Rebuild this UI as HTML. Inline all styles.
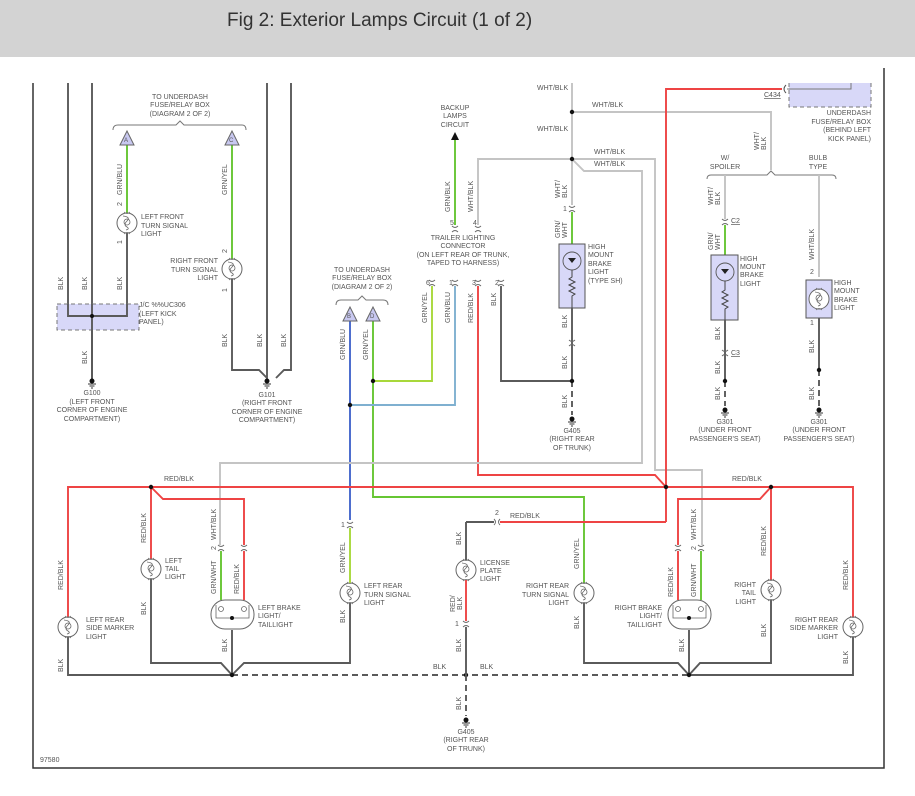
<!DOCTYPE html>
<html><head><meta charset="utf-8"><style>
html,body{margin:0;padding:0;background:#fff;}
svg{display:block;}
text{font-family:"Liberation Sans",sans-serif;font-size:7px;fill:#555;}
.t{font-size:19px;fill:#333;}
.w{fill:none;stroke-width:1.9;}
.k{stroke:#5a5a5a;}.r{stroke:#ee4444;}.g{stroke:#66c633;}.y{stroke:#a8d83a;}.b{stroke:#4466cc;}.h{stroke:#c4c4c4;}
.d{stroke-dasharray:6,4;}
</style></head><body>
<svg width="915" height="796" viewBox="0 0 915 796" xmlns="http://www.w3.org/2000/svg">
<defs>
<g id="lamp"><circle r="10" fill="#fff" stroke="#666" stroke-width="1"/><path d="M-4,-7 Q4,-6 0,-2 Q-4,2 0,4 Q3,6 -1,7 M-3,-1 a3,3 0 1,0 6,0 a3,3 0 1,0 -6,0" fill="none" stroke="#666" stroke-width="0.8"/><path d="M-3,-11 Q0,-8 3,-11 M-3,11 Q0,8 3,11" fill="none" stroke="#666" stroke-width="0.8"/></g>
<g id="cn"><path d="M-3,-3 Q0,0 3,-3 M-3,3 Q0,0 3,3" fill="none" stroke="#666" stroke-width="0.9"/></g>
<g id="gnd"><circle r="2.5" fill="#111"/><path d="M-4,3 H4 M-2.5,5 H2.5 M-1,7 H1" stroke="#333" stroke-width="0.9"/></g>
<g id="tri"><polygon points="0,-8 -7,6 7,6" fill="#c8c8f0" stroke="#666" stroke-width="1"/></g>
</defs>
<rect x="0" y="0" width="915" height="57" fill="#d3d3d3"/>
<text class="t" x="227" y="26">Fig 2: Exterior Lamps Circuit (1 of 2)</text>
<path d="M33,83 V768 H884 V68" fill="none" stroke="#333" stroke-width="1.5"/>

<!-- LEFT TOP -->
<path class="w k" d="M68,83 V316 M92,83 V381 M127,233 V316 M68,316 H127"/>
<rect x="57" y="304" width="82" height="26" fill="#d8d8f8" stroke="#777" stroke-dasharray="4,3"/>
<path class="w k" d="M68,304 V316 H127 V304 M92,304 V381"/>
<circle cx="92" cy="316" r="2" fill="#111"/>
<path class="w g" d="M127,145 V213 M232,145 V259"/>
<use href="#tri" x="127" y="139"/><use href="#tri" x="232" y="139"/>
<text x="124" y="142" style="font-size:6px">A</text><text x="229" y="142" style="font-size:6px">C</text>
<path d="M113,130 Q113,125 118,125 H176 L180,121 L184,125 H242 Q246,125 246,130" fill="none" stroke="#777"/>
<text x="180" y="99" text-anchor="middle">TO UNDERDASH</text><text x="180" y="107" text-anchor="middle">FUSE/RELAY BOX</text><text x="180" y="116" text-anchor="middle">(DIAGRAM 2 OF 2)</text>
<use href="#lamp" x="127" y="223"/>
<text x="141" y="219">LEFT FRONT</text><text x="141" y="228">TURN SIGNAL</text><text x="141" y="236">LIGHT</text>
<use href="#lamp" x="232" y="269"/>
<text x="218" y="263" text-anchor="end">RIGHT FRONT</text><text x="218" y="272" text-anchor="end">TURN SIGNAL</text><text x="218" y="280" text-anchor="end">LIGHT</text>
<path class="w k" d="M232,279 V370 H259 L267,378 M267,83 V381 M291,83 V370 H284 L276,378"/>
<use href="#gnd" x="92" y="381"/><use href="#gnd" x="267" y="381"/>
<text x="139" y="307">J/C %%UC306</text><text x="139" y="316">(LEFT KICK</text><text x="139" y="324">PANEL)</text>
<text x="92" y="395" text-anchor="middle">G100</text><text x="92" y="404" text-anchor="middle">(LEFT FRONT</text><text x="92" y="412" text-anchor="middle">CORNER OF ENGINE</text><text x="92" y="421" text-anchor="middle">COMPARTMENT)</text>
<text x="267" y="397" text-anchor="middle">G101</text><text x="267" y="405" text-anchor="middle">(RIGHT FRONT</text><text x="267" y="414" text-anchor="middle">CORNER OF ENGINE</text><text x="267" y="422" text-anchor="middle">COMPARTMENT)</text>
<g>
<text transform="translate(63,290) rotate(-90)">BLK</text><text transform="translate(87,290) rotate(-90)">BLK</text><text transform="translate(122,290) rotate(-90)">BLK</text>
<text transform="translate(122,195) rotate(-90)">GRN/BLU</text><text transform="translate(122,206) rotate(-90)">2</text><text transform="translate(122,244) rotate(-90)">1</text>
<text transform="translate(227,195) rotate(-90)">GRN/YEL</text><text transform="translate(227,253) rotate(-90)">2</text><text transform="translate(227,292) rotate(-90)">1</text>
<text transform="translate(87,364) rotate(-90)">BLK</text>
<text transform="translate(227,347) rotate(-90)">BLK</text><text transform="translate(262,347) rotate(-90)">BLK</text><text transform="translate(286,347) rotate(-90)">BLK</text>
</g>

<!-- TRAILER -->
<path d="M336,305 Q336,300 341,300 H358 L362,296 L366,300 H383 Q388,300 388,305" fill="none" stroke="#777"/>
<text x="362" y="272" text-anchor="middle">TO UNDERDASH</text><text x="362" y="280" text-anchor="middle">FUSE/RELAY BOX</text><text x="362" y="289" text-anchor="middle">(DIAGRAM 2 OF 2)</text>
<path class="w b" d="M350,320 V520"/>
<path class="w g" d="M373,320 V497 H584 V583"/>
<path class="w y" d="M373,381 H432 V286"/>
<path class="w" stroke="#7fb0d0" d="M350,405 H455 V286"/>
<use href="#tri" x="350" y="315"/><use href="#tri" x="373" y="315"/>
<text x="347" y="318" style="font-size:6px">B</text><text x="370" y="318" style="font-size:6px">D</text>
<circle cx="373" cy="381" r="2.2" fill="#111"/><circle cx="350" cy="405" r="2.2" fill="#111"/>
<path class="w g" d="M455,140 V225"/><polygon points="455,132 451,140 459,140" fill="#111"/>
<text x="455" y="110" text-anchor="middle">BACKUP</text><text x="455" y="118" text-anchor="middle">LAMPS</text><text x="455" y="127" text-anchor="middle">CIRCUIT</text>
<path class="w h" d="M478,225 V159 H572"/>
<text x="463" y="240" text-anchor="middle">TRAILER LIGHTING</text><text x="463" y="248" text-anchor="middle">CONNECTOR</text><text x="463" y="257" text-anchor="middle">(ON LEFT REAR OF TRUNK,</text><text x="463" y="265" text-anchor="middle">TAPED TO HARNESS)</text>
<use href="#cn" x="455" y="229"/><use href="#cn" x="478" y="229"/>
<use href="#cn" x="432" y="283"/><use href="#cn" x="455" y="283"/><use href="#cn" x="478" y="283"/><use href="#cn" x="501" y="283"/>
<text x="450" y="225">5</text><text x="473" y="225">4</text><text x="426" y="285">6</text><text x="449" y="285">1</text><text x="472" y="285">3</text><text x="495" y="285">2</text>
<path class="w r" d="M478,286 V475 H655 L666,487"/>
<path class="w k" d="M501,286 V381 H572"/>
<g>
<text transform="translate(450,212) rotate(-90)">GRN/BLK</text><text transform="translate(473,212) rotate(-90)">WHT/BLK</text>
<text transform="translate(427,323) rotate(-90)">GRN/YEL</text><text transform="translate(450,323) rotate(-90)">GRN/BLU</text><text transform="translate(473,323) rotate(-90)">RED/BLK</text><text transform="translate(496,306) rotate(-90)">BLK</text>
<text transform="translate(345,360) rotate(-90)">GRN/BLU</text><text transform="translate(368,360) rotate(-90)">GRN/YEL</text>
</g>

<!-- HMBL center -->
<path class="w h" d="M572,83 V205 M572,112 H771 V170 M572,159 H655 V470 H702 V545 M572,159 L584,171 H642 V463 H220 V545"/>
<circle cx="572" cy="112" r="2.2" fill="#111"/><circle cx="572" cy="159" r="2.2" fill="#111"/>
<text x="537" y="90">WHT/BLK</text><text x="592" y="107">WHT/BLK</text><text x="537" y="131">WHT/BLK</text><text x="594" y="154">WHT/BLK</text><text x="594" y="166">WHT/BLK</text>
<use href="#cn" x="572" y="209"/><text x="563" y="211">1</text>
<path class="w g" d="M572,212 V244"/>
<rect x="559" y="244" width="26" height="64" fill="#d8d8f8" stroke="#555"/>
<circle cx="572" cy="261" r="9" fill="none" stroke="#555" stroke-width="0.9"/>
<polygon points="568,258 576,258 572,263" fill="#222"/>
<path d="M572,270 V277 L569,279 L575,282 L569,285 L575,288 L569,291 L575,294 L572,296 V308" fill="none" stroke="#444"/>
<text x="588" y="249">HIGH</text><text x="588" y="257">MOUNT</text><text x="588" y="266">BRAKE</text><text x="588" y="274">LIGHT</text><text x="588" y="283">(TYPE SH)</text>
<path class="w k" d="M572,308 V381"/><use href="#cn" x="572" y="343"/>
<path class="w k d" d="M572,381 V415"/><circle cx="572" cy="381" r="2.2" fill="#111"/><use href="#gnd" x="572" y="419"/>
<text x="572" y="433" text-anchor="middle">G405</text><text x="572" y="441" text-anchor="middle">(RIGHT REAR</text><text x="572" y="450" text-anchor="middle">OF TRUNK)</text>
<g>
<text transform="translate(560,198) rotate(-90)">WHT/</text><text transform="translate(567,198) rotate(-90)">BLK</text>
<text transform="translate(560,238) rotate(-90)">GRN/</text><text transform="translate(567,238) rotate(-90)">WHT</text>
<text transform="translate(567,328) rotate(-90)">BLK</text><text transform="translate(567,369) rotate(-90)">BLK</text><text transform="translate(567,408) rotate(-90)">BLK</text>
</g>

<!-- right top -->
<path class="w r" d="M666,522 V89 H782"/>
<path d="M786,85 Q782,89 786,93" fill="none" stroke="#555"/>
<path d="M789,83 V107 H871 V83" fill="#d8d8f8" stroke="#777" stroke-dasharray="4,3"/>
<path d="M787,89 H851 V83" fill="none" stroke="#777"/>
<text x="764" y="97" text-decoration="underline">C434</text>
<text x="871" y="115" text-anchor="end">UNDERDASH</text><text x="871" y="124" text-anchor="end">FUSE/RELAY BOX</text><text x="871" y="132" text-anchor="end">(BEHIND LEFT</text><text x="871" y="141" text-anchor="end">KICK PANEL)</text>
<path d="M707,179 Q707,175 711,175 H767 L771,171 L775,175 H832 Q836,175 836,179" fill="none" stroke="#777"/>
<text x="725" y="160" text-anchor="middle">W/</text><text x="725" y="169" text-anchor="middle">SPOILER</text>
<text x="818" y="160" text-anchor="middle">BULB</text><text x="818" y="169" text-anchor="middle">TYPE</text>
<text transform="translate(759,150) rotate(-90)">WHT/</text><text transform="translate(766,150) rotate(-90)">BLK</text>
<path class="w h" d="M725,175 V219 M819,175 V277"/>
<use href="#cn" x="725" y="222"/><text x="731" y="223" text-decoration="underline">C2</text>
<path class="w g" d="M725,225 V255"/>
<rect x="711" y="255" width="27" height="65" fill="#d8d8f8" stroke="#555"/>
<circle cx="725" cy="272" r="9" fill="none" stroke="#555" stroke-width="0.9"/>
<polygon points="721,269 729,269 725,274" fill="#222"/>
<path d="M725,281 V290 L722,292 L728,295 L722,298 L728,301 L722,304 L728,307 L725,309 V320" fill="none" stroke="#444"/>
<text x="740" y="261">HIGH</text><text x="740" y="269">MOUNT</text><text x="740" y="277">BRAKE</text><text x="740" y="286">LIGHT</text>
<path class="w k" d="M725,320 V381"/><use href="#cn" x="725" y="353"/><text x="731" y="355" text-decoration="underline">C3</text>
<path class="w k d" d="M725,381 V406"/><circle cx="725" cy="381" r="2.2" fill="#111"/><use href="#gnd" x="725" y="410"/>
<text x="725" y="424" text-anchor="middle">G301</text><text x="725" y="432" text-anchor="middle">(UNDER FRONT</text><text x="725" y="441" text-anchor="middle">PASSENGER'S SEAT)</text>
<rect x="806" y="280" width="26" height="38" fill="#d8d8f8" stroke="#555"/>
<use href="#lamp" x="819" y="299"/>
<text x="834" y="285">HIGH</text><text x="834" y="293">MOUNT</text><text x="834" y="302">BRAKE</text><text x="834" y="310">LIGHT</text>
<text x="810" y="274">2</text><text x="810" y="325">1</text>
<path class="w k" d="M819,318 V370"/><path class="w k d" d="M819,370 V406"/><circle cx="819" cy="370" r="2.2" fill="#111"/><use href="#gnd" x="819" y="410"/>
<text x="819" y="424" text-anchor="middle">G301</text><text x="819" y="432" text-anchor="middle">(UNDER FRONT</text><text x="819" y="441" text-anchor="middle">PASSENGER'S SEAT)</text>
<g>
<text transform="translate(713,205) rotate(-90)">WHT/</text><text transform="translate(720,205) rotate(-90)">BLK</text>
<text transform="translate(713,250) rotate(-90)">GRN/</text><text transform="translate(720,250) rotate(-90)">WHT</text>
<text transform="translate(720,340) rotate(-90)">BLK</text><text transform="translate(720,374) rotate(-90)">BLK</text><text transform="translate(720,400) rotate(-90)">BLK</text>
<text transform="translate(814,260) rotate(-90)">WHT/BLK</text><text transform="translate(814,353) rotate(-90)">BLK</text><text transform="translate(814,400) rotate(-90)">BLK</text>
</g>

<!-- BOTTOM -->
<path class="w r" d="M68,617 V487 H853 V617 M151,487 V559 M151,487 L163,499 H244 V545 M771,487 V580 M771,487 L760,499 H678 V545"/>
<circle cx="151" cy="487" r="2.2" fill="#111"/><circle cx="666" cy="487" r="2.2" fill="#111"/><circle cx="771" cy="487" r="2.2" fill="#111"/>
<text x="164" y="481">RED/BLK</text><text x="732" y="481">RED/BLK</text>
<path class="w k" d="M68,637 V675 H232 M151,579 V663 H221 L232,675 M350,603 V663 H244 L232,675 M232,630 V675"/>
<path class="w k d" d="M232,675 H689"/>
<path class="w k" d="M689,675 H853 V637 M584,603 V663 H678 L689,675 M771,600 V663 H700 L689,675 M689,630 V675"/>
<circle cx="232" cy="675" r="2.2" fill="#111"/><circle cx="689" cy="675" r="2.2" fill="#111"/><circle cx="466" cy="675" r="2.2" fill="#111"/>
<use href="#lamp" x="68" y="627"/><use href="#lamp" x="151" y="569"/><use href="#lamp" x="350" y="593"/><use href="#lamp" x="584" y="593"/><use href="#lamp" x="771" y="590"/><use href="#lamp" x="853" y="627"/><use href="#lamp" x="466" y="570"/>
<rect x="211" y="600" width="43" height="29" rx="14" fill="#fff" stroke="#666"/>
<path d="M216,605 V618 H249 V605" fill="none" stroke="#666" stroke-width="0.8"/><circle cx="221" cy="609" r="2.5" fill="none" stroke="#666" stroke-width="0.8"/><circle cx="244" cy="609" r="2.5" fill="none" stroke="#666" stroke-width="0.8"/><circle cx="232" cy="618" r="2" fill="#111"/>
<rect x="668" y="600" width="43" height="29" rx="14" fill="#fff" stroke="#666"/>
<path d="M673,605 V618 H706 V605" fill="none" stroke="#666" stroke-width="0.8"/><circle cx="678" cy="609" r="2.5" fill="none" stroke="#666" stroke-width="0.8"/><circle cx="701" cy="609" r="2.5" fill="none" stroke="#666" stroke-width="0.8"/><circle cx="689" cy="618" r="2" fill="#111"/>
<path class="w g" d="M221,551 V600 M701,551 V600"/>
<path class="w r" d="M244,551 V600 M678,551 V600"/>
<use href="#cn" x="221" y="548"/><use href="#cn" x="244" y="548"/><use href="#cn" x="678" y="548"/><use href="#cn" x="701" y="548"/>
<path class="w y" d="M350,528 V583"/><use href="#cn" x="350" y="525"/><text x="341" y="527">1</text>
<path class="w k" d="M466,522 V560 M466,522 H494"/><use href="#cn" x="497" y="522" transform="rotate(90 497 522)"/><text x="495" y="515">2</text>
<path class="w r" d="M500,522 H666"/><text x="510" y="518">RED/BLK</text>
<path class="w r" d="M466,580 V621"/><use href="#cn" x="466" y="624"/><text x="455" y="626">1</text>
<path class="w k" d="M466,627 V675"/><path class="w k d" d="M466,675 V716"/><use href="#gnd" x="466" y="720"/>
<text x="466" y="734" text-anchor="middle">G405</text><text x="466" y="742" text-anchor="middle">(RIGHT REAR</text><text x="466" y="751" text-anchor="middle">OF TRUNK)</text>
<text x="433" y="669">BLK</text><text x="480" y="669">BLK</text>
<text x="40" y="762">97580</text>
<text x="86" y="622">LEFT REAR</text><text x="86" y="630">SIDE MARKER</text><text x="86" y="639">LIGHT</text>
<text x="165" y="563">LEFT</text><text x="165" y="571">TAIL</text><text x="165" y="579">LIGHT</text>
<text x="258" y="610">LEFT BRAKE</text><text x="258" y="618">LIGHT/</text><text x="258" y="627">TAILLIGHT</text>
<text x="364" y="588">LEFT REAR</text><text x="364" y="597">TURN SIGNAL</text><text x="364" y="605">LIGHT</text>
<text x="480" y="565">LICENSE</text><text x="480" y="573">PLATE</text><text x="480" y="581">LIGHT</text>
<text x="569" y="588" text-anchor="end">RIGHT REAR</text><text x="569" y="597" text-anchor="end">TURN SIGNAL</text><text x="569" y="605" text-anchor="end">LIGHT</text>
<text x="662" y="610" text-anchor="end">RIGHT BRAKE</text><text x="662" y="618" text-anchor="end">LIGHT/</text><text x="662" y="627" text-anchor="end">TAILLIGHT</text>
<text x="756" y="587" text-anchor="end">RIGHT</text><text x="756" y="595" text-anchor="end">TAIL</text><text x="756" y="604" text-anchor="end">LIGHT</text>
<text x="838" y="622" text-anchor="end">RIGHT REAR</text><text x="838" y="630" text-anchor="end">SIDE MARKER</text><text x="838" y="639" text-anchor="end">LIGHT</text>
<g>
<text transform="translate(63,590) rotate(-90)">RED/BLK</text><text transform="translate(63,672) rotate(-90)">BLK</text>
<text transform="translate(146,543) rotate(-90)">RED/BLK</text><text transform="translate(146,615) rotate(-90)">BLK</text>
<text transform="translate(216,594) rotate(-90)">GRN/WHT</text><text transform="translate(239,594) rotate(-90)">RED/BLK</text>
<text transform="translate(216,540) rotate(-90)">WHT/BLK</text><text transform="translate(216,550) rotate(-90)">2</text>
<text transform="translate(227,652) rotate(-90)">BLK</text>
<text transform="translate(345,573) rotate(-90)">GRN/YEL</text><text transform="translate(345,623) rotate(-90)">BLK</text>
<text transform="translate(461,545) rotate(-90)">BLK</text><text transform="translate(455,612) rotate(-90)">RED/</text><text transform="translate(462,610) rotate(-90)">BLK</text>
<text transform="translate(461,652) rotate(-90)">BLK</text><text transform="translate(461,710) rotate(-90)">BLK</text>
<text transform="translate(579,569) rotate(-90)">GRN/YEL</text><text transform="translate(579,629) rotate(-90)">BLK</text>
<text transform="translate(673,597) rotate(-90)">RED/BLK</text><text transform="translate(696,597) rotate(-90)">GRN/WHT</text>
<text transform="translate(696,540) rotate(-90)">WHT/BLK</text><text transform="translate(696,550) rotate(-90)">2</text>
<text transform="translate(684,652) rotate(-90)">BLK</text>
<text transform="translate(766,556) rotate(-90)">RED/BLK</text><text transform="translate(766,637) rotate(-90)">BLK</text>
<text transform="translate(848,590) rotate(-90)">RED/BLK</text><text transform="translate(848,664) rotate(-90)">BLK</text>
</g>
</svg>
</body></html>
